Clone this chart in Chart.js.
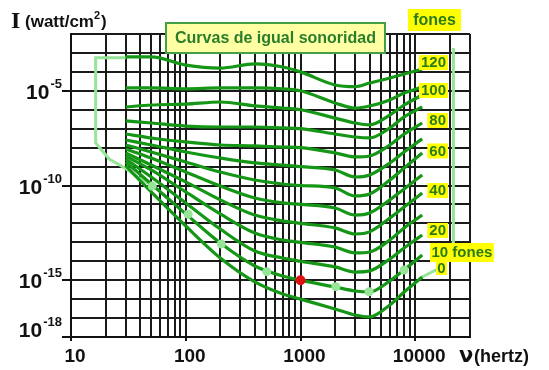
<!DOCTYPE html>
<html>
<head>
<meta charset="utf-8">
<script src="https://cdn.jsdelivr.net/npm/chart.js@4.4.1/dist/chart.umd.min.js"></script>
<style>
html,body{margin:0;padding:0;background:#fff;}
#wrap{position:relative;width:549px;height:370px;}
</style>
</head>
<body>
<div id="wrap"><canvas id="c"></canvas></div>
<script>
// Frequencies (Hz) at which each equal-loudness curve was read
const freqs = [30, 50, 100, 200, 400, 700, 1000, 2000, 3000, 4000, 6000, 8000, 11500];
// log10 of intensity (watt/cm^2) for each curve, in fones
const fon0   = [-8.97, -10.34, -12.14, -13.83, -15.09, -15.73, -16.0, -16.52, -16.84, -16.94, -16.31, -15.62, -14.83];
const fon10  = [-8.76, -9.92, -11.50, -13.04, -14.25, -14.78, -15.0, -15.36, -15.57, -15.62, -15.04, -14.46, -13.67];
const fon20  = [-8.60, -9.55, -10.92, -12.30, -13.46, -13.83, -14.0, -14.30, -14.57, -14.51, -13.88, -13.30, -12.61];
const fon30  = [-8.44, -9.18, -10.34, -11.50, -12.51, -12.88, -13.0, -13.25, -13.56, -13.51, -12.88, -12.24, -11.56];
const fon40  = [-8.28, -8.92, -9.81, -10.76, -11.56, -11.87, -12.0, -12.24, -12.56, -12.45, -11.72, -11.13, -10.40];
const fon50  = [-8.07, -8.55, -9.29, -10.03, -10.66, -10.92, -11.0, -11.19, -11.56, -11.45, -10.76, -10.18, -9.44];
const fon60  = [-7.86, -8.23, -8.76, -9.29, -9.71, -9.92, -10.0, -10.13, -10.55, -10.45, -9.71, -9.08, -8.28];
const fon70  = [-7.60, -7.86, -8.23, -8.55, -8.81, -8.92, -9.0, -9.18, -9.55, -9.44, -8.81, -8.23, -7.54];
const fon80  = [-7.28, -7.49, -7.70, -7.86, -7.91, -7.97, -8.0, -8.28, -8.49, -8.44, -7.86, -7.28, -6.70];
const fon90  = [-6.59, -6.70, -6.86, -6.91, -6.91, -6.96, -7.0, -7.28, -7.44, -7.49, -6.96, -6.38, -5.85];
const fon100 = [-5.85, -5.75, -5.70, -5.59, -5.80, -5.91, -6.0, -6.44, -6.70, -6.80, -6.28, -5.75, -5.22];
const fon110 = [-4.85, -4.85, -4.90, -4.85, -4.85, -4.90, -5.0, -5.64, -5.91, -5.80, -5.48, -5.12, -4.80];
const fon120 = [-3.21, -3.21, -3.64, -3.80, -3.58, -3.74, -4.0, -4.69, -4.78, -4.59, -4.32, -4.11, -3.85];

// Hearing-area boundary (pale green)
const paleLeftF  = [30, 16.4, 16.4, 21.5, 30, 39, 51];
const paleLeftE  = [-3.25, -3.25, -7.75, -8.6, -9.1, -9.6, -10.0];
const paleRightF = [11500, 15500, 21500, 21500];
const paleRightE = [-14.83, -14.43, -13.0, -2.74];
const dotF = [51, 105, 204, 508, 2030, 3960, 8000];
const dotE = [-10.03, -11.52, -13.09, -14.55, -15.34, -15.61, -14.46];
const refF = [1000];
const refE = [-15];

// Axis ticks
const xGrid = [10,20,30,40,50,60,70,80,90,100,200,300,400,500,600,700,800,900,
  1000,2000,3000,4000,5000,6000,7000,8000,9000,10000,20000,30000];
const xLabelVals = [10, 100, 1000, 10000];
const yGridExps = [-18,-17,-16,-15,-14,-13,-12,-11,-10,-9,-8,-7,-6,-5,-4,-3,-2];
const yLabelExps = [-5, -10, -15, -18];

const SANS = '"Liberation Sans", Arial, Helvetica, sans-serif';
const GREEN = 'rgb(22,150,22)';
const PALE = 'rgb(150,228,150)';

const toPts = (fs, es) => fs.map((f, i) => ({x: f, y: Math.pow(10, es[i])}));

const curves = [fon0, fon10, fon20, fon30, fon40, fon50, fon60, fon70, fon80, fon90, fon100, fon110, fon120];
const curveNames = ['0','10','20','30','40','50','60','70','80','90','100','110','120'];

const datasets = [];
datasets.push({label:'1000 Hz', data: toPts(refF, refE), showLine:false, pointRadius:5,
  pointBackgroundColor:'#e01010', pointBorderWidth:0, order:-2});
datasets.push({label:'umbral', data: toPts(dotF, dotE), showLine:false, pointRadius:4.5,
  pointBackgroundColor:PALE, pointBorderWidth:0, order:-1});
curves.forEach((arr, i) => {
  datasets.push({label: curveNames[i] + ' fones', data: toPts(freqs, arr), borderColor: GREEN,
    borderWidth: 3.2, pointRadius: 0, cubicInterpolationMode: 'monotone', fill: false, order: 1});
});
datasets.push({label:'zona izq', data: toPts(paleLeftF, paleLeftE), borderColor: PALE, borderWidth: 3,
  pointRadius: 0, tension: 0, fill:false, order: 5});
datasets.push({label:'zona der', data: toPts(paleRightF, paleRightE), borderColor: PALE, borderWidth: 3,
  pointRadius: 0, tension: 0, fill:false, order: 5});

const labelSpecs = [
  {text:'120', arr: fon120, dy:-6.5},
  {text:'100', arr: fon100, dy:-4.5},
  {text:'80',  arr: fon80,  dy:-2.5},
  {text:'60',  arr: fon60,  dy:-2},
  {text:'40',  arr: fon40,  dy:-2.5},
  {text:'20',  arr: fon20,  dy:-4.5},
];

const overlay = {
  id: 'overlay',
  afterDraw(chart) {
    const {ctx, chartArea: ca} = chart;
    const ys = chart.scales.y;
    ctx.save();
    // y tick labels with superscripts
    ctx.fillStyle = '#111';
    ctx.textBaseline = 'alphabetic';
    yLabelExps.forEach(e => {
      let py = ys.getPixelForValue(Math.pow(10, e));
      if (e === yGridExps[0]) py -= 8;
      const right = ca.left - 9;
      const sup = String(e);
      ctx.textAlign = 'right';
      ctx.font = 'bold 13px ' + SANS;
      ctx.fillText(sup, right, py - 3);
      const sw = ctx.measureText(sup).width;
      ctx.font = 'bold 21px ' + SANS;
      ctx.fillText('10', right - sw - 1, py + 8);
    });
    // y axis title
    ctx.textAlign = 'left';
    ctx.font = 'bold 24px "Liberation Serif", "Times New Roman", serif';
    ctx.fillText('I', 11, 28);
    ctx.font = 'bold 17px ' + SANS;
    ctx.fillText('(watt/cm', 25, 27);
    let w = ctx.measureText('(watt/cm').width;
    ctx.font = 'bold 11px ' + SANS;
    ctx.fillText('2', 25 + w, 19);
    const w2 = ctx.measureText('2').width;
    ctx.font = 'bold 17px ' + SANS;
    ctx.fillText(')', 25 + w + w2 + 1, 27);
    // x axis title
    ctx.font = 'bold 21px "DejaVu Sans", ' + SANS;
    ctx.fillText('\u03bd', 459, 362);
    ctx.font = 'bold 18px ' + SANS;
    ctx.fillText('(hertz)', 474, 362);

    // Title box
    ctx.fillStyle = '#ffffa4';
    ctx.fillRect(166, 23, 219, 30);
    ctx.strokeStyle = '#44a044';
    ctx.lineWidth = 2;
    ctx.strokeRect(166, 23, 219, 30);
    ctx.fillStyle = '#2a7d2a';
    ctx.font = 'bold 16px ' + SANS;
    ctx.textAlign = 'center';
    ctx.textBaseline = 'middle';
    ctx.fillText('Curvas de igual sonoridad', 275.5, 38.5);

    // fones header
    const TXT = '#2a7a1a';
    ctx.fillStyle = '#ffff00';
    ctx.fillRect(408, 9, 53, 22);
    ctx.fillStyle = TXT;
    ctx.font = 'bold 16px ' + SANS;
    ctx.fillText('fones', 434.5, 20.5);

    // curve labels
    ctx.font = 'bold 15px ' + SANS;
    labelSpecs.forEach(s => {
      const cy = ys.getPixelForValue(Math.pow(10, s.arr[s.arr.length - 1])) + s.dy;
      const tw = ctx.measureText(s.text).width;
      const right = ca.right - 22;
      ctx.fillStyle = '#ffff00';
      ctx.fillRect(right - tw - 4, cy - 7.5, tw + 4, 15);
      ctx.fillStyle = TXT;
      ctx.textAlign = 'center';
      ctx.fillText(s.text, right - (tw + 4) / 2, cy + 0.5);
    });
    // "0"
    {
      const cy = ys.getPixelForValue(Math.pow(10, fon0[fon0.length - 1])) - 9.5;
      ctx.fillStyle = '#ffff00';
      ctx.fillRect(436, cy - 6.5, 11, 14);
      ctx.fillStyle = TXT;
      ctx.fillText('0', 441.5, cy + 1);
    }
    // "10 fones"
    {
      const cy = ys.getPixelForValue(Math.pow(10, fon10[fon10.length - 1])) - 2.5;
      const tw = ctx.measureText('10 fones').width;
      ctx.fillStyle = '#ffff00';
      ctx.fillRect(430, cy - 9.5, tw + 3, 19);
      ctx.fillStyle = TXT;
      ctx.textAlign = 'left';
      ctx.fillText('10 fones', 431.5, cy + 0.5);
    }
    ctx.restore();
  }
};

new Chart(document.getElementById('c'), {
  type: 'line',
  data: { datasets },
  options: {
    responsive: true,
    maintainAspectRatio: false,
    animation: false,
    devicePixelRatio: 1,
    layout: { padding: { left: 0, right: 79, top: 34, bottom: 0 } },
    plugins: { legend: { display: false }, tooltip: { enabled: false } },
    scales: {
      x: {
        type: 'logarithmic',
        min: 10, max: 30000,
        afterBuildTicks: s => { s.ticks = xGrid.map(v => ({value: v})); },
        afterFit: s => { s.height = 33; },
        border: { display: true, color: '#111', width: 2 },
        grid: {
          color: '#1a1a1a', lineWidth: 2, tickLength: 4,
          tickColor: c => (c.tick && xLabelVals.includes(c.tick.value)) ? '#111' : 'rgba(0,0,0,0)'
        },
        ticks: {
          autoSkip: false, maxRotation: 0, padding: 4, labelOffset: 4,
          color: '#111', font: { family: SANS, size: 19, weight: 'bold' },
          callback: v => xLabelVals.includes(v) ? String(v) : ''
        }
      },
      y: {
        type: 'logarithmic',
        min: Math.pow(10, yGridExps[0]), max: Math.pow(10, yGridExps[yGridExps.length - 1]),
        afterBuildTicks: s => { s.ticks = yGridExps.map(e => ({value: Math.pow(10, e)})); },
        afterFit: s => { s.width = 71; },
        border: { display: true, color: '#111', width: 2 },
        grid: {
          color: '#1a1a1a', lineWidth: 2, tickLength: 9,
          tickColor: c => (c.tick && yLabelExps.includes(Math.round(Math.log10(c.tick.value)))) ? '#111' : 'rgba(0,0,0,0)'
        },
        ticks: { autoSkip: false, callback: () => '', font: { size: 1 } }
      }
    }
  },
  plugins: [overlay]
});
</script>
</body>
</html>
